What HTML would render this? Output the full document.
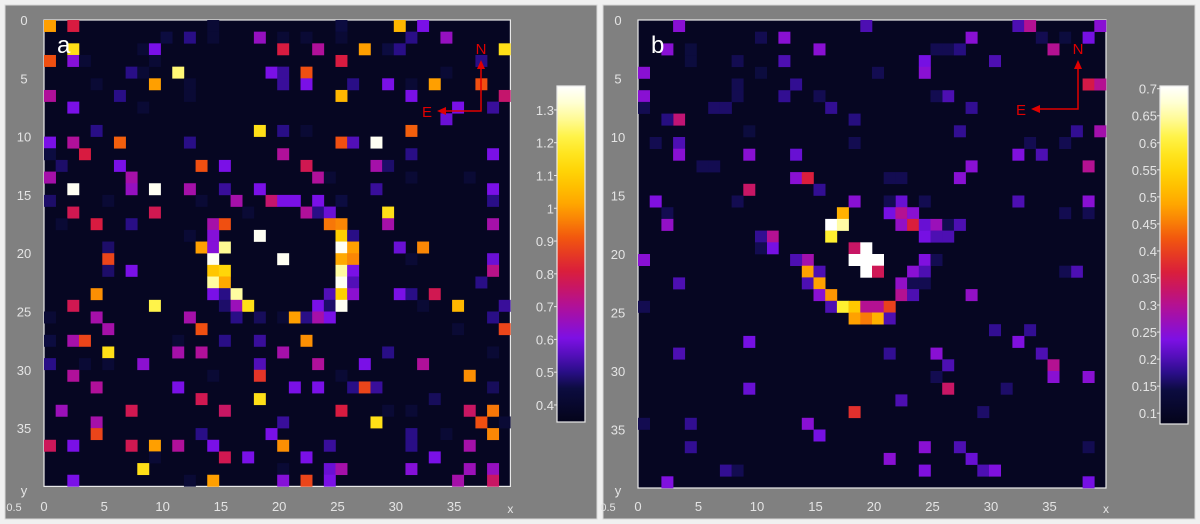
<!DOCTYPE html>
<html><head><meta charset="utf-8"><style>
html,body{margin:0;padding:0;background:#f0f0f0;}
svg{display:block;font-family:"Liberation Sans",sans-serif;}
</style></head><body>
<svg id="fig" width="1200" height="524" viewBox="0 0 1200 524"></svg>
<script>
// Panel a sparse data: columns, rows, values
const colsA=[0,2,30,32,25,14, 10,12,14,18,20,22,31,34,25, 2,8,9,20,23,27,29,30,39, 0,2,3,9,25,37, 7,8,11,19,20,22,34, 9,20,22,29,31,33,37,26,4,12, 0,6,25,31,39,12, 2,8,35,38, 34, 4,18,20,22,31, 0,2,6,12,25,26,28, 0,3,20,31,38, 1,6,13,15,22,28,29, 0,7,23,24,31,36, 2,7,9,12,15,18,28,38, 0,13,16,19,20,21,23,25,38,5, 2,9,22,23,24,29,17, 4,7,14,15,24,25,29,38,1, 14,18,25,26,12, 5,13,14,15,25,26,30,32, 5,14,20,25,26,38,31, 5,7,14,15,25,26,38, 14,15,25,26,37, 4,14,15,16,24,25,26,30,31,33, 2,9,15,16,17,23,24,25,35,39,32, 0,4,12,16,18,20,21,22,23,24,38, 5,13,39,35, 0,2,3,11,15,18,22, 5,11,13,20,29,38, 0,8,18,23,27,32,3,5, 2,18,25,36,14, 4,11,21,23,26,27,28,38, 13,18,33, 1,7,15,25,36,38,29,31, 4,20,28,37,39, 4,13,19,38,31,34, 0,2,7,9,11,14,20,24,31,36, 9,15,17,22,33, 8,20,24,25,31,36,38, 2,14,20,22,24,35,38,12];
const rowsA=[0,0,0,0,0,0, 1,1,1,1,1,1,1,1,1, 2,2,2,2,2,2,2,2,2, 3,3,3,3,3,3, 4,4,4,4,4,4,4, 5,5,5,5,5,5,5,5,5,5, 6,6,6,6,6,6, 7,7,7,7, 8, 9,9,9,9,9, 10,10,10,10,10,10,10, 11,11,11,11,11, 12,12,12,12,12,12,12, 13,13,13,13,13,13, 14,14,14,14,14,14,14,14, 15,15,15,15,15,15,15,15,15,15, 16,16,16,16,16,16,16, 17,17,17,17,17,17,17,17,17, 18,18,18,18,18, 19,19,19,19,19,19,19,19, 20,20,20,20,20,20,20, 21,21,21,21,21,21,21, 22,22,22,22,22, 23,23,23,23,23,23,23,23,23,23, 24,24,24,24,24,24,24,24,24,24,24, 25,25,25,25,25,25,25,25,25,25,25, 26,26,26,26, 27,27,27,27,27,27,27, 28,28,28,28,28,28, 29,29,29,29,29,29,29,29, 30,30,30,30,30, 31,31,31,31,31,31,31,31, 32,32,32, 33,33,33,33,33,33,33,33, 34,34,34,34,34, 35,35,35,35,35,35, 36,36,36,36,36,36,36,36,36,36, 37,37,37,37,37, 38,38,38,38,38,38,38, 39,39,39,39,39,39,39,39];
const valsA=[1.0,0.8,1.05,0.6,0.45,0.42, 0.45,0.5,0.42,0.65,0.42,0.42,0.5,0.65,0.42, 1.15,0.42,0.6,0.8,0.7,1.0,0.45,0.5,1.15, 0.9,0.62,0.42,0.42,0.8,0.5, 0.5,0.42,1.25,0.6,0.52,0.9,0.42, 1.0,0.52,0.6,0.6,0.42,1.0,0.9,0.5,0.42,0.42, 0.7,0.5,1.05,0.6,0.75,0.42, 0.6,0.42,0.6,0.52, 0.58, 0.5,1.15,0.5,0.42,0.92, 0.6,0.7,0.92,0.5,0.9,0.55,1.36, 0.45,0.8,0.7,0.5,0.6, 0.48,0.6,0.9,0.6,0.78,0.68,0.48, 0.68,0.68,0.7,0.42,0.42,0.42, 1.36,0.65,1.36,0.68,0.52,0.6,0.52,0.6, 0.48,0.42,0.68,0.75,0.6,0.6,0.6,0.45,0.5,0.42, 0.78,0.78,0.7,0.5,0.58,1.15,0.42, 0.8,0.5,0.68,0.9,0.95,0.97,0.68,0.68,0.42, 0.62,1.36,1.1,0.5,0.42, 0.48,1.0,0.62,1.27,1.36,1.0,0.58,0.97, 0.88,1.36,1.36,1.02,0.97,0.58,0.42, 0.48,0.6,1.08,1.12,1.28,0.6,0.72, 1.28,1.02,1.36,0.55,0.5, 0.98,0.6,0.5,1.28,0.55,1.1,0.63,0.6,0.5,0.78, 0.78,1.22,0.48,0.66,1.15,0.6,0.48,1.36,1.05,0.52,0.42, 0.42,0.68,0.68,0.5,0.47,0.42,1.0,0.5,0.68,0.6,0.5, 0.68,0.9,0.88,0.42, 0.45,0.68,0.88,0.42,0.5,0.52,0.98, 1.15,0.68,0.7,0.68,0.5,0.42, 0.5,0.63,0.55,0.7,0.6,0.7,0.42,0.42, 0.7,0.85,0.42,0.98,0.42, 0.7,0.6,0.6,0.6,0.5,0.88,0.52,0.47, 0.78,1.15,0.47, 0.66,0.78,0.76,0.8,0.76,0.95,0.42,0.42, 0.68,0.52,1.15,0.9,0.42, 0.88,0.5,0.6,0.97,0.5,0.42, 0.77,0.6,0.78,1.0,0.7,0.6,0.98,0.52,0.5,0.68, 0.42,0.78,0.6,0.6,0.6, 1.15,0.42,0.58,0.68,0.62,0.66,0.65, 0.6,1.0,0.62,0.88,0.6,0.68,0.76,0.42];
// Panel b sparse data
const colsB=[3,19,32,33,39, 12,10,28,34,38,36, 2,15,4,25,26,27,35, 4,8,12,24,30, 0,24,20,10, 13,8,38,39, 0,12,26,25,15,8, 6,7,16,28,0, 3,2,18, 37,27,39,9, 3,1,18,33,36, 3,9,13,32,34, 5,6,28,38, 13,14,27,21,22, 9,15, 1,18,22,21,24,32,38,8, 2,17,21,22,23,36,38, 2,16,17,22,23,24,25,26,27, 16,11,10,24,25,26, 18,19,11,10, 0,14,13,18,19,20,24,25, 14,15,19,20,23,24,37,36, 3,14,15,22,23,24, 15,16,22,23,28, 16,17,18,19,20,21,0, 18,19,20,21, 30,33, 9,32, 3,25,21,34, 26,35, 35,38,25, 9,26,31, 22, 18,29, 4,14,0, 15, 4,24,27,38, 21,28, 7,8,24,29,30, 2,38];
const rowsB=[0,0,0,0,0, 1,1,1,1,1,1, 2,2,2,2,2,2,2, 3,3,3,3,3, 4,4,4,4, 5,5,5,5, 6,6,6,6,6,6, 7,7,7,7,7, 8,8,8, 9,9,9,9, 10,10,10,10,10, 11,11,11,11,11, 12,12,12,12, 13,13,13,13,13, 14,14, 15,15,15,15,15,15,15,15, 16,16,16,16,16,16,16, 17,17,17,17,17,17,17,17,17, 18,18,18,18,18,18, 19,19,19,19, 20,20,20,20,20,20,20,20, 21,21,21,21,21,21,21,21, 22,22,22,22,22,22, 23,23,23,23,23, 24,24,24,24,24,24,24, 25,25,25,25, 26,26, 27,27, 28,28,28,28, 29,29, 30,30,30, 31,31,31, 32, 33,33, 34,34,34, 35, 36,36,36,36, 37,37, 38,38,38,38,38, 39,39];
const valsB=[0.25,0.2,0.2,0.3,0.25, 0.25,0.15,0.25,0.15,0.23,0.14, 0.25,0.25,0.14,0.15,0.15,0.17,0.3, 0.14,0.15,0.2,0.23,0.2, 0.25,0.25,0.15,0.14, 0.18,0.15,0.35,0.3, 0.25,0.18,0.2,0.15,0.15,0.15, 0.16,0.16,0.18,0.18,0.15, 0.32,0.17,0.17, 0.18,0.18,0.28,0.14, 0.2,0.15,0.15,0.15,0.15, 0.25,0.25,0.22,0.24,0.2, 0.15,0.15,0.25,0.3, 0.25,0.36,0.25,0.15,0.15, 0.33,0.18, 0.24,0.25,0.22,0.15,0.15,0.2,0.25,0.15, 0.15,0.5,0.23,0.3,0.25,0.15,0.15, 0.26,0.71,0.65,0.26,0.36,0.22,0.27,0.15,0.2, 0.6,0.3,0.18,0.23,0.2,0.2, 0.33,0.71,0.23,0.15, 0.25,0.28,0.2,0.71,0.71,0.71,0.24,0.15, 0.48,0.2,0.71,0.34,0.25,0.2,0.2,0.15, 0.2,0.2,0.48,0.26,0.15,0.15, 0.25,0.47,0.3,0.2,0.26, 0.2,0.6,0.53,0.3,0.3,0.4,0.15, 0.48,0.45,0.5,0.2, 0.18,0.18, 0.23,0.24, 0.2,0.25,0.18,0.2, 0.2,0.3, 0.25,0.25,0.15, 0.22,0.33,0.16, 0.2, 0.38,0.16, 0.18,0.25,0.15, 0.23, 0.18,0.25,0.2,0.15, 0.25,0.22, 0.18,0.15,0.24,0.2,0.24, 0.24,0.23];
const ticksAxis=[0,5,10,15,20,25,30,35];
const cbTicksA=[0.4,0.5,0.6,0.7,0.8,0.9,1,1.1,1.2,1.3];
const cbTicksB=[0.1,0.15,0.2,0.25,0.3,0.35,0.4,0.45,0.5,0.55,0.6,0.65,0.7];

const NS="http://www.w3.org/2000/svg";
const svg=document.getElementById('fig');
function el(t,a,p){const e=document.createElementNS(NS,t);for(const k in a)e.setAttribute(k,a[k]);(p||svg).appendChild(e);return e;}
const stops=[[0,[4,4,26]],[0.1,[12,12,64]],[0.15,[42,14,136]],[0.245,[122,16,232]],[0.343,[176,16,154]],[0.44,[216,26,64]],[0.54,[240,80,16]],[0.637,[255,160,0]],[0.735,[255,208,0]],[0.833,[255,240,48]],[0.93,[255,255,192]],[1,[255,255,255]]];
function cmap(t){t=Math.max(0,Math.min(1,t));for(let i=1;i<stops.length;i++){if(t<=stops[i][0]){const [t0,c0]=stops[i-1],[t1,c1]=stops[i];const f=(t-t0)/(t1-t0);return 'rgb('+c0.map((c,j)=>Math.round(c+(c1[j]-c)*f)).join(',')+')';}}return 'rgb(255,255,255)';}

// outer panels
for(const [x,n] of [[5,'panel-a'],[603,'panel-b']]){
  const r=el('rect',{x:x,y:5,width:592,height:514,fill:'#808080',stroke:'#d8d8d8','stroke-width':1});
  
  
}

function panel(cfg){
  const {px,py,cs,cols,rows,vals,vmin,vmax,cbx,cby0,cby1,cbTicks,lab,nx,ny,ex,lname}=cfg;
  const xs=c=>px+c*cs, ys=r=>py+r*cs, tv=v=>(v-vmin)/(vmax-vmin);
  const bg=el('rect',{x:px,y:py,width:40*cs,height:40*cs,fill:cmap(0.02),stroke:'#e8e8e8','stroke-width':1.2});
  
  
  for(let i=0;i<vals.length;i++){
    const r=el('rect',{x:xs(cols[i]),y:ys(rows[i]),width:cs+0.3,height:cs+0.3,fill:cmap(tv(vals[i]))});
    
    
  }
  for(const t of ticksAxis){
    const a=el('text',{x:px-20,y:ys(t)+5,fill:'#e4e4e4','font-size':13,'text-anchor':'middle'});a.textContent=t;
    
    
    const b=el('text',{x:xs(t)+(t==0?0:2),y:511,fill:'#e4e4e4','font-size':13,'text-anchor':'middle'});b.textContent=t;
    
    
  }
  const yl=el('text',{x:px-20,y:495,fill:'#e4e4e4','font-size':13,'text-anchor':'middle'});yl.textContent='y';
  
  
  const xl=el('text',{x:px+40*cs,y:513,fill:'#e4e4e4','font-size':12,'text-anchor':'middle'});xl.textContent='x';
  
  
  const o=el('text',{x:px-30,y:511,fill:'#e4e4e4','font-size':11,'text-anchor':'middle'});o.textContent='0.5';
  
  
  const L=el('text',{x:px+13,y:py+33,fill:'#ffffff','font-size':24});L.textContent=lab;
  
  
  // compass
  const g=el('g',{stroke:'#e00000','stroke-width':1.5,fill:'none'});
  
  
  el('polyline',{points:`${nx},65 ${nx},${ny} ${ex+6},${ny}`},g);
  el('polygon',{points:`${nx-4},69 ${nx+4},69 ${nx},60`,fill:'#e00000',stroke:'none'},g);
  el('polygon',{points:`${ex+10},${ny-4} ${ex+10},${ny+4} ${ex+1},${ny}`,fill:'#e00000',stroke:'none'},g);
  const N=el('text',{x:nx,y:54,fill:'#e00000','font-size':15,'text-anchor':'middle'});N.textContent='N';
  
  
  const E=el('text',{x:ex-9,y:ny+6,fill:'#e00000','font-size':15,'text-anchor':'middle'});E.textContent='E';
  
  
  // colorbar
  const defs=el('defs',{});
  const gr=el('linearGradient',{id:'g'+lab,x1:0,y1:1,x2:0,y2:0},defs);
  for(let i=0;i<=20;i++)el('stop',{offset:i/20,'stop-color':cmap(i/20)},gr);
  const cb=el('rect',{x:cbx,y:cby0,width:28,height:cby1-cby0,fill:`url(#g${lab})`,stroke:'#e8e8e8','stroke-width':1.2});
  
  
  const cy=v=>cby1-(v-vmin)/(vmax-vmin)*(cby1-cby0);
  for(const t of cbTicks){
    el('line',{x1:cbx-3,x2:cbx,y1:cy(t),y2:cy(t),stroke:'#e8e8e8'});
    const tt=el('text',{x:cbx-3,y:cy(t)+5,fill:'#e4e4e4','font-size':13,'text-anchor':'end'});tt.textContent=t;
    
    
  }
}
panel({px:44,py:20,cs:11.66,cols:colsA,rows:rowsA,vals:valsA,vmin:0.348,vmax:1.373,cbx:557,cby0:86,cby1:422,cbTicks:cbTicksA,lab:'a',nx:481,ny:111,ex:436,lname:'map-a'});
panel({px:638,py:20,cs:11.7,cols:colsB,rows:rowsB,vals:valsB,vmin:0.08,vmax:0.705,cbx:1160,cby0:86,cby1:424,cbTicks:cbTicksB,lab:'b',nx:1078,ny:109,ex:1030,lname:'map-b'});
</script>
</body></html>
